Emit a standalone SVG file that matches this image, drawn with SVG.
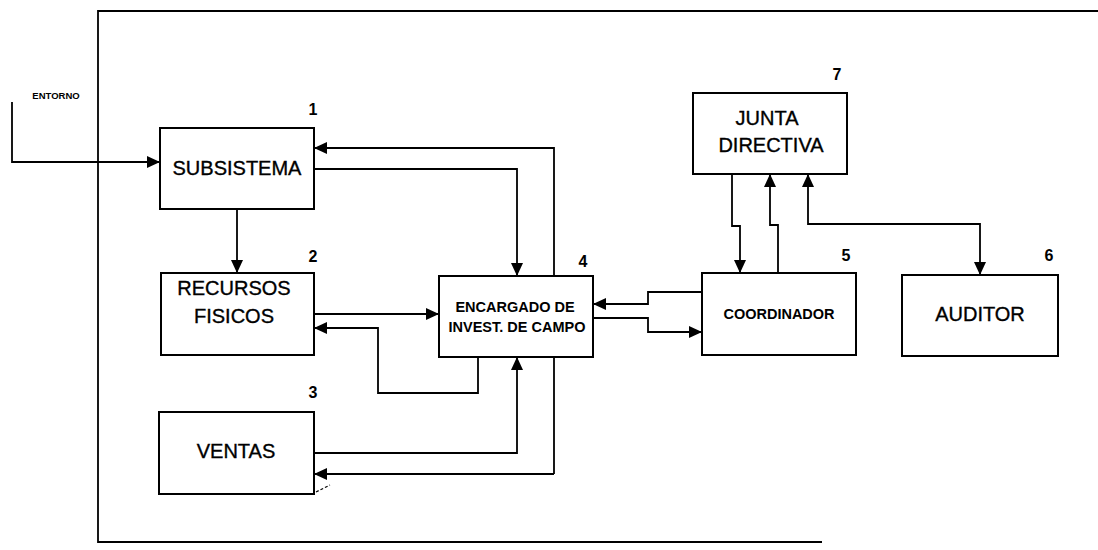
<svg xmlns="http://www.w3.org/2000/svg" width="1098" height="550" viewBox="0 0 1098 550">
<style>
.box{fill:#fff;stroke:#000;stroke-width:2}
.ln{fill:none;stroke:#000;stroke-width:1.8}
.t{font-family:"Liberation Sans",Arial,sans-serif;font-size:20px;fill:#000;stroke:#000;stroke-width:0.35;text-anchor:middle}
.tb{font-family:"Liberation Sans",Arial,sans-serif;font-size:14.5px;font-weight:bold;fill:#000;text-anchor:middle}
.n{font-family:"Liberation Sans",Arial,sans-serif;font-size:16px;font-weight:bold;fill:#000;text-anchor:middle}
</style>
<defs>
<marker id="ah" markerUnits="userSpaceOnUse" markerWidth="13" markerHeight="12" refX="13" refY="6" orient="auto-start-reverse">
<path d="M0,0 L13,6 L0,12 z" fill="#000"/>
</marker>
</defs>
<rect width="1098" height="550" fill="#fff"/>
<g id="frame" class="ln" stroke-width="2">
<path d="M1098,11 H98 V542 H822"/>
</g>
<g id="connectors" class="ln">
<path d="M12,102 V162 H160" marker-end="url(#ah)"/>
<path d="M237,209 V273" marker-end="url(#ah)"/>
<path d="M314,169 H517 V276" marker-end="url(#ah)"/>
<path d="M554,474 V148 H314" marker-end="url(#ah)"/>
<path d="M314,314 H439" marker-end="url(#ah)"/>
<path d="M478,357 V393 H378 V328 H314" marker-end="url(#ah)"/>
<path d="M314,453 H517 V357" marker-end="url(#ah)"/>
<path d="M554,474 H314" marker-end="url(#ah)"/>
<path d="M316,492 L330,485" stroke-dasharray="3,2" stroke-width="1.2"/>
<path d="M702,292 H648 V304 H593" marker-end="url(#ah)"/>
<path d="M593,318 H648 V332 H702" marker-end="url(#ah)"/>
<path d="M732,174 V226 H740 V273" marker-end="url(#ah)"/>
<path d="M778,273 V225 H770 V174" marker-end="url(#ah)"/>
<path d="M808,174 V224 H980 V275" marker-start="url(#ah)" marker-end="url(#ah)"/>
</g>
<g id="entorno">
<text x="56" y="99" font-family="Liberation Sans, Arial, sans-serif" font-size="9.5" font-weight="bold" text-anchor="middle">ENTORNO</text>
</g>
<g id="n1">
<rect class="box" x="160" y="128" width="154" height="81"/>
<text class="t" x="237" y="175">SUBSISTEMA</text>
<text class="n" x="313" y="115">1</text>
</g>
<g id="n2">
<rect class="box" x="161" y="273" width="153" height="82"/>
<text class="t" x="234" y="295">RECURSOS</text>
<text class="t" x="234" y="323">FISICOS</text>
<text class="n" x="313" y="262">2</text>
</g>
<g id="n3">
<rect class="box" x="159" y="412" width="155" height="82"/>
<text class="t" x="236" y="458">VENTAS</text>
<text class="n" x="313" y="398">3</text>
</g>
<g id="n4">
<rect class="box" x="439" y="276" width="154" height="81"/>
<text class="tb" x="515" y="312">ENCARGADO DE</text>
<text class="tb" x="517" y="332">INVEST. DE CAMPO</text>
<text class="n" x="583" y="267">4</text>
</g>
<g id="n5">
<rect class="box" x="702" y="273" width="154" height="82"/>
<text class="tb" x="779" y="319" font-size="15">COORDINADOR</text>
<text class="n" x="846" y="261">5</text>
</g>
<g id="n6">
<rect class="box" x="902" y="275" width="156" height="81"/>
<text class="t" x="980" y="321">AUDITOR</text>
<text class="n" x="1049" y="261">6</text>
</g>
<g id="n7">
<rect class="box" x="693" y="93" width="154" height="81"/>
<text class="t" x="767" y="125">JUNTA</text>
<text class="t" x="771" y="152">DIRECTIVA</text>
<text class="n" x="837" y="80">7</text>
</g>
</svg>
